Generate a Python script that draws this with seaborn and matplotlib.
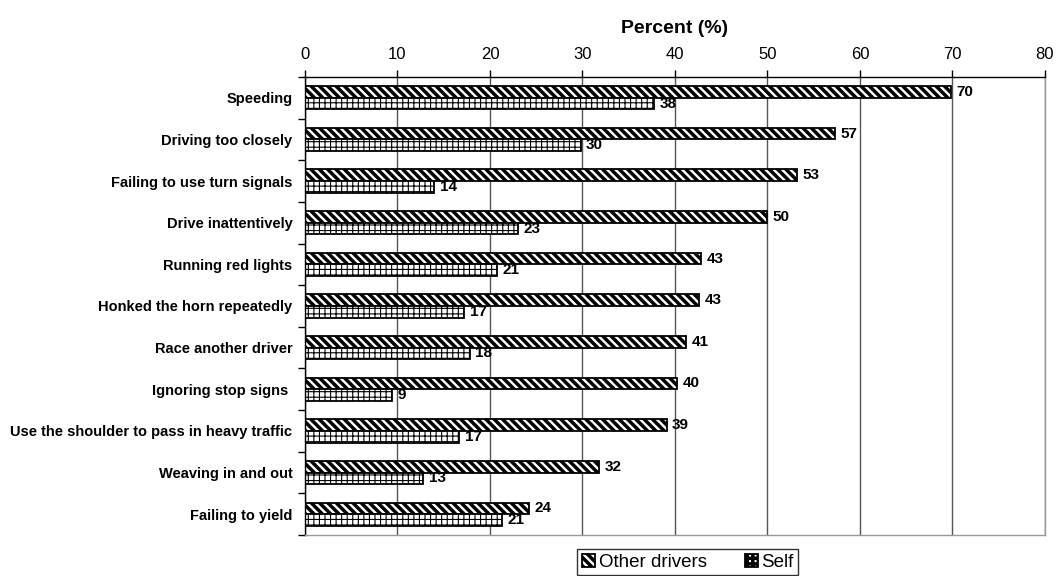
import numpy as np
import pandas as pd
import matplotlib
matplotlib.use('Agg')
import matplotlib.pyplot as plt
import seaborn as sns

# Data
behaviors = ['Speeding', 'Driving too closely', 'Failing to use turn signals',
             'Drive inattentively', 'Running red lights', 'Honked the horn repeatedly',
             'Race another driver', 'Ignoring stop signs ',
             'Use the shoulder to pass in heavy traffic', 'Weaving in and out',
             'Failing to yield']
other_drivers = [69.8, 57.3, 53.2, 49.9, 42.8, 42.6, 41.2, 40.2, 39.1, 31.8, 24.2]
self_reported = [37.7, 29.8, 14.0, 23.0, 20.8, 17.2, 17.8, 9.4, 16.7, 12.8, 21.3]
groups = ['Other drivers', 'Self']
x_ticks = [0, 10, 20, 30, 40, 50, 60, 70, 80]

df = pd.DataFrame({
    'Behavior': behaviors * 2,
    'Percent': other_drivers + self_reported,
    'Group': [groups[0]] * len(behaviors) + [groups[1]] * len(behaviors),
})

sns.set_style('white')
plt.rcParams['font.family'] = ['Liberation Sans', 'DejaVu Sans']
plt.rcParams['text.color'] = 'black'
plt.rcParams['axes.labelcolor'] = 'black'
plt.rcParams['xtick.color'] = 'black'
plt.rcParams['ytick.color'] = 'black'
plt.rcParams['hatch.linewidth'] = 2.5

fig = plt.figure(figsize=(10.6, 5.76), dpi=100)
ax = fig.add_axes([0.2877, 0.0712, 0.6981, 0.7951])

sns.barplot(data=df, y='Behavior', x='Percent', hue='Group', orient='h',
            palette=['white', 'white'], edgecolor='black', linewidth=1.3,
            width=0.56, legend=False, ax=ax)

# hatch patterns: diagonal stripes for other drivers, grid for self
hatches = ['\\\\\\\\', '+++']
hatch_lw = [2.5, 0.8]
for container, h, lw in zip(ax.containers, hatches, hatch_lw):
    for bar in container:
        bar.set_hatch(h)
        if hasattr(bar, 'set_hatch_linewidth'):
            bar.set_hatch_linewidth(lw)
    ax.bar_label(container, fmt='%.0f', padding=4, fontsize=11, fontweight='bold')

# x axis on top
ax.xaxis.tick_top()
ax.xaxis.set_label_position('top')
ax.set_xlim(0, 80)
ax.set_xticks(x_ticks)
ax.set_xlabel('Percent (%)', fontsize=14, fontweight='bold', labelpad=10)
ax.tick_params(axis='x', top=True, bottom=False, length=5, width=1,
               direction='out', labelsize=12, pad=6, color='black')

# y axis
ax.set_ylabel('')
ax.tick_params(axis='y', which='major', length=0, pad=9, labelsize=10.5)
for t in ax.get_yticklabels():
    t.set_fontweight('bold')
ax.set_yticks(np.arange(-0.5, len(behaviors), 1), minor=True)
ax.tick_params(axis='y', which='minor', left=True, length=5, width=1,
               direction='out', color='black')

ax.grid(axis='x', color='#555555', linewidth=1)
ax.set_axisbelow(True)

for side in ['top', 'left']:
    ax.spines[side].set_color('black')
    ax.spines[side].set_linewidth(1)
for side in ['bottom', 'right']:
    ax.spines[side].set_color('#999999')
    ax.spines[side].set_linewidth(1)

leg = fig.legend(ax.containers, groups, loc='center', bbox_to_anchor=(0.649, 0.024),
                 ncol=2, fontsize=13.5, frameon=True, fancybox=False,
                 edgecolor='black', handlelength=0.7, handleheight=0.7,
                 handletextpad=0.2, columnspacing=2.0, borderpad=0.25)
leg.get_frame().set_linewidth(1)

fig.savefig('out.png', dpi=100)
